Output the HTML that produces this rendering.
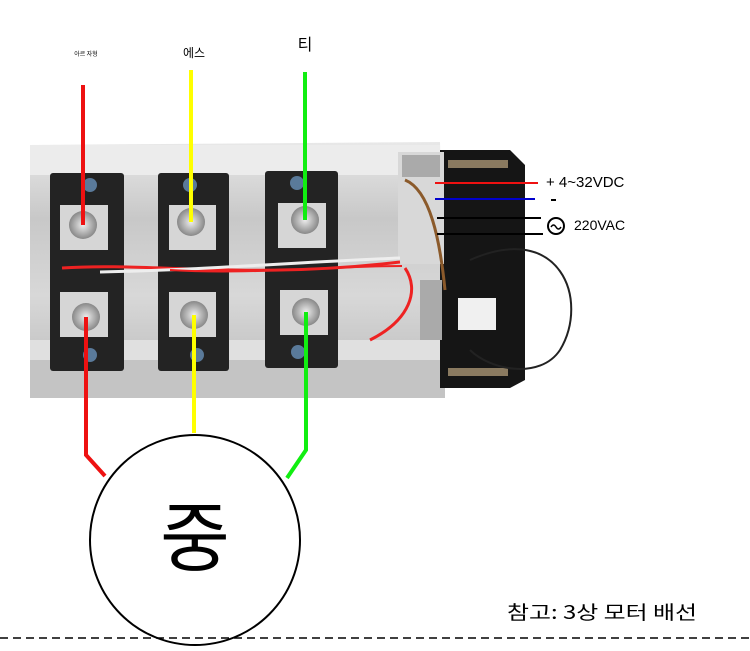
<!DOCTYPE html>
<html><head><meta charset="utf-8"><style>
body{margin:0;background:#fff;width:750px;height:651px;overflow:hidden;position:relative;font-family:"Liberation Sans","Noto Sans CJK KR",sans-serif}
</style></head><body>
<svg width="750" height="651" viewBox="0 0 750 651" style="position:absolute;left:0;top:0">
<defs>
<linearGradient id="hs" x1="0" y1="0" x2="0" y2="1">
<stop offset="0" stop-color="#e8e8e8"/><stop offset="0.3" stop-color="#c8c8c8"/><stop offset="0.6" stop-color="#d8d8d8"/><stop offset="1" stop-color="#b8b8b8"/></linearGradient>
<radialGradient id="sc"><stop offset="0" stop-color="#eee"/><stop offset="1" stop-color="#888"/></radialGradient>
</defs>
<polygon points="30,145 440,142 445,385 30,398" fill="url(#hs)"/>
<rect x="30" y="145" width="410" height="30" fill="#ececec"/>
<rect x="30" y="340" width="415" height="20" fill="#e0e0e0"/>
<rect x="30" y="360" width="415" height="38" fill="#c4c4c4"/>
<polygon points="440,150 510,150 525,165 525,380 510,388 440,388" fill="#151515"/>
<rect x="448" y="160" width="60" height="8" fill="#8a7a60"/>
<rect x="448" y="368" width="60" height="8" fill="#8a7a60"/>
<rect x="458" y="298" width="38" height="32" fill="#f0f0f0"/>
<rect x="398" y="152" width="46" height="112" fill="#d8d8d8"/>
<rect x="402" y="155" width="38" height="22" fill="#aaa"/>
<g fill="#232323">
<rect x="50" y="173" width="74" height="198" rx="3"/>
<rect x="158" y="173" width="71" height="198" rx="3"/>
<rect x="265" y="171" width="73" height="197" rx="3"/>
</g>
<g fill="#d6d6d6">
<rect x="60" y="205" width="48" height="45"/><rect x="60" y="292" width="48" height="45"/>
<rect x="169" y="205" width="47" height="45"/><rect x="169" y="292" width="47" height="45"/>
<rect x="278" y="203" width="48" height="45"/><rect x="280" y="290" width="48" height="45"/>
</g>
<g fill="url(#sc)">
<circle cx="83" cy="225" r="14"/><circle cx="86" cy="317" r="14"/>
<circle cx="191" cy="222" r="14"/><circle cx="194" cy="315" r="14"/>
<circle cx="305" cy="220" r="14"/><circle cx="306" cy="312" r="14"/>
</g>
<g fill="#5a7a9a">
<circle cx="90" cy="185" r="7"/><circle cx="190" cy="185" r="7"/><circle cx="297" cy="183" r="7"/>
<circle cx="90" cy="355" r="7"/><circle cx="197" cy="355" r="7"/><circle cx="298" cy="352" r="7"/>
</g>
<path d="M62,268 C150,262 250,280 400,262" stroke="#e22" stroke-width="3" fill="none"/>
<path d="M100,272 C200,270 300,262 400,258" stroke="#eee" stroke-width="3" fill="none"/>
<path d="M170,270 C250,275 330,266 402,266" stroke="#e22" stroke-width="2" fill="none"/>
<path d="M405,268 C420,290 410,320 370,340" stroke="#e22" stroke-width="3" fill="none"/>
<rect x="420" y="280" width="22" height="60" fill="#aaa"/>
<path d="M405,180 C430,190 440,240 445,290" stroke="#8b5a2b" stroke-width="3" fill="none"/>
<path d="M470,260 C560,220 590,300 560,350 C540,380 490,370 470,350" stroke="#222" stroke-width="2" fill="none"/>
<g fill="none" stroke-width="4">
<path d="M83,85 V225" stroke="#e11"/><path d="M86,317 V455 L105,476" stroke="#e11"/>
<path d="M191,70 V222" stroke="#ff0"/><path d="M194,315 V433" stroke="#ff0"/>
<path d="M305,72 V220" stroke="#1e1"/><path d="M306,312 V450 L287,478" stroke="#1e1"/>
</g>
<line x1="435" y1="183" x2="538" y2="183" stroke="#e11" stroke-width="2"/>
<line x1="435" y1="199" x2="535" y2="199" stroke="#00c" stroke-width="2"/>
<line x1="437" y1="218" x2="541" y2="218" stroke="#000" stroke-width="2"/>
<line x1="437" y1="234" x2="543" y2="234" stroke="#000" stroke-width="2"/>
<circle cx="556" cy="226" r="8" fill="none" stroke="#000" stroke-width="2"/>
<path d="M551,227 q2.5,-4 5,0 t5,0" fill="none" stroke="#000" stroke-width="1.5"/>
<text x="546" y="187" font-size="15" font-family="Liberation Sans">+ 4~32VDC</text>
<rect x="551" y="199" width="5" height="2" fill="#000"/>
<text x="574" y="230" font-size="14" font-family="Liberation Sans">220VAC</text>
<circle cx="195" cy="540" r="105" fill="#fff" stroke="#000" stroke-width="2"/>
<text x="195" y="565" font-size="76" text-anchor="middle" font-family="Noto Sans CJK KR,sans-serif">중</text>
<text x="86" y="56" font-size="6" text-anchor="middle" font-family="Noto Sans CJK KR,sans-serif">아르 자형</text>
<text x="194" y="57" font-size="12" text-anchor="middle" font-family="Noto Sans CJK KR,sans-serif">에스</text>
<text x="305" y="50" font-size="16" text-anchor="middle" font-family="Noto Sans CJK KR,sans-serif">티</text>
<text x="507" y="619" font-size="19" textLength="190" lengthAdjust="spacingAndGlyphs" font-family="Noto Sans CJK KR,sans-serif">참고: 3상 모터 배선</text>
<line x1="0" y1="638" x2="750" y2="638" stroke="#000" stroke-width="1.5" stroke-dasharray="8,5"/>
</svg>
</body></html>
